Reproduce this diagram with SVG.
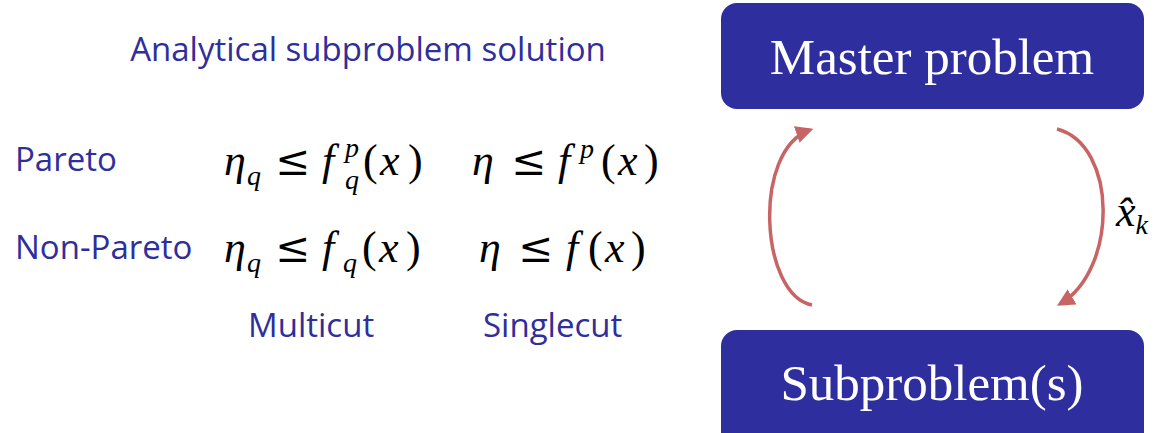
<svg xmlns="http://www.w3.org/2000/svg" width="1163" height="433" viewBox="0 0 1163 433">
<style>
.lbl{font-family:"Open Sans","DejaVu Sans",sans-serif;fill:#2E2E9C;font-size:33px}
.math{font-family:"Liberation Serif","DejaVu Serif",serif;font-style:italic;fill:#000;font-size:44px}
.up{font-style:normal}
.le{font-style:normal;font-family:"DejaVu Serif",serif;font-size:42px}
.sm{font-size:28px}
.box{fill:#2E2E9E}
.btxt{font-family:"Liberation Serif","DejaVu Serif",serif;fill:#fff;font-size:51px;text-anchor:middle}
.conn{fill:none;stroke:#C86464;stroke-width:3.5}
</style>
<defs>
<marker id="ah" viewBox="0 0 10 10" refX="8" refY="5" markerWidth="5" markerHeight="5" orient="auto" markerUnits="strokeWidth">
<path d="M0,0 L10,5 L0,10 z" fill="#C86464"/>
</marker>
</defs>
<g id="title"><text class="lbl" x="368" y="61" text-anchor="middle">Analytical subproblem solution</text></g>
<g id="labels">
<text class="lbl" x="15" y="171">Pareto</text>
<text class="lbl" x="15" y="259">Non-Pareto</text>
<text class="lbl" x="248" y="337">Multicut</text>
<text class="lbl" x="483" y="337">Singlecut</text>
</g>
<g id="formulas">
<text class="math"><tspan x="224" y="175">η</tspan><tspan class="sm" x="247" y="185">q</tspan><tspan class="le" x="275" y="175">≤</tspan><tspan x="322" y="175">f</tspan><tspan class="sm" x="345" y="157">p</tspan><tspan class="up" x="363" y="175">(</tspan><tspan x="380" y="175">x</tspan><tspan class="up" x="408" y="175">)</tspan></text>
<text class="math sm" x="345" y="189">q</text>
<text class="math"><tspan x="472" y="175">η</tspan><tspan class="le" x="511" y="175">≤</tspan><tspan x="558" y="175">f</tspan><tspan class="sm" x="580" y="158">p</tspan><tspan class="up" x="601" y="175">(</tspan><tspan x="618" y="175">x</tspan><tspan class="up" x="644" y="175">)</tspan></text>
<text class="math"><tspan x="224" y="262">η</tspan><tspan class="sm" x="247" y="272">q</tspan><tspan class="le" x="275" y="262">≤</tspan><tspan x="322" y="262">f</tspan><tspan class="sm" x="343" y="272">q</tspan><tspan class="up" x="362" y="262">(</tspan><tspan x="379" y="262">x</tspan><tspan class="up" x="406" y="262">)</tspan></text>
<text class="math"><tspan x="479" y="262">η</tspan><tspan class="le" x="518" y="262">≤</tspan><tspan x="566" y="262">f</tspan><tspan class="up" x="588" y="262">(</tspan><tspan x="605" y="262">x</tspan><tspan class="up" x="631" y="262">)</tspan></text>
</g>
<g id="master"><rect class="box" x="721" y="3" width="423" height="106" rx="16"/><text class="btxt" x="932" y="74">Master problem</text></g>
<g id="sub"><rect class="box" x="721" y="330" width="423" height="120" rx="16"/><text class="btxt" x="932" y="400">Subproblem(s)</text></g>
<g id="connectors">
<path class="conn" d="M812,305 C760,295 752,150 810,130" marker-end="url(#ah)"/>
<path class="conn" d="M1057,129 C1118,145 1118,270 1060,304" marker-end="url(#ah)"/>
<text class="math" x="1116" y="226">x̂<tspan class="sm" dy="8">k</tspan></text>
</g>
</svg>
